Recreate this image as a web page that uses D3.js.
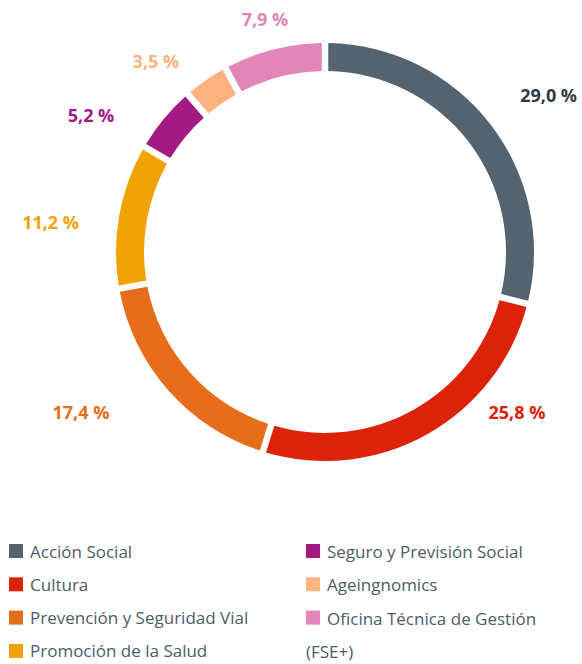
<!DOCTYPE html>
<html>
<head>
<meta charset="utf-8">
<script src="https://cdn.jsdelivr.net/npm/d3@7"></script>
<style>
  body { margin: 0; background: #fff; }
  svg { display: block; font-family: "Open Sans", sans-serif; }
</style>
</head>
<body>
<div id="chart"></div>
<script>
const width = 582;
const height = 664;

// datos
const categories = ["Acción Social", "Cultura", "Prevención y Seguridad Vial", "Promoción de la Salud",
  "Seguro y Previsión Social", "Ageingnomics", "Oficina Técnica de Gestión (FSE+)"];
const values = [29.0, 25.8, 17.4, 11.2, 5.2, 3.5, 7.9];
const colors = ["#536470", "#da2309", "#e66d1a", "#f1a306", "#a41a83", "#fdb381", "#e285b7"];
const labelColors = ["#2f3a44", "#da2309", "#e66d1a", "#f1a306", "#a41a83", "#fdb381", "#e285b7"];

const svg = d3.select("#chart")
  .append("svg")
  .attr("width", width)
  .attr("height", height);

const cx = 325, cy = 252;
const outer = 209, inner = 181;

const pie = d3.pie().value(d => d).sort(null);
const arcs = pie(values);

const arc = d3.arc()
  .innerRadius(inner)
  .outerRadius(outer)
  .padAngle(6.5 / outer)
  .padRadius(outer);

const g = svg.append("g").attr("transform", `translate(${cx},${cy})`);

g.selectAll("path.slice")
  .data(arcs)
  .enter()
  .append("path")
  .attr("class", "slice")
  .attr("d", arc)
  .attr("fill", (d, i) => colors[i]);

// etiquetas (ajuste manual del ángulo / radio)
const labelShift = [2.8, -21, 8.1, -3.9, -9.3, -6.8, -0.2];
const labelRadius = [273, 250, 292, 276, 271, 255, 241];
const fmt = v => d3.format(".1f")(v).replace(".", ",") + " %";

g.selectAll("text.lbl")
  .data(arcs)
  .enter()
  .append("text")
  .attr("class", "lbl")
  .attr("x", (d, i) => {
    const a = (d.startAngle + d.endAngle) / 2 + labelShift[i] * Math.PI / 180;
    return Math.sin(a) * labelRadius[i];
  })
  .attr("y", (d, i) => {
    const a = (d.startAngle + d.endAngle) / 2 + labelShift[i] * Math.PI / 180;
    return -Math.cos(a) * labelRadius[i];
  })
  .attr("text-anchor", "middle")
  .attr("dominant-baseline", "central")
  .attr("font-size", 18)
  .attr("font-weight", 700)
  .attr("fill", (d, i) => labelColors[i])
  .text(d => fmt(d.data));

// leyenda
const rowH = 33.3;
const legend = svg.append("g");
categories.forEach((c, i) => {
  const col = i < 4 ? 0 : 1;
  const row = i < 4 ? i : i - 4;
  const x0 = col === 0 ? 9 : 306;
  const y0 = 551 + row * rowH;
  legend.append("rect")
    .attr("x", x0)
    .attr("y", y0 - 7)
    .attr("width", 14)
    .attr("height", 14)
    .attr("fill", colors[i]);
  const t = legend.append("text")
    .attr("x", x0 + 21)
    .attr("y", y0)
    .attr("dominant-baseline", "central")
    .attr("font-size", 17)
    .attr("fill", "#4e5c67");
  if (c.includes("(FSE+)")) {
    t.append("tspan").text(c.replace(" (FSE+)", ""));
    t.append("tspan").attr("x", x0).attr("dy", rowH).text("(FSE+)");
  } else {
    t.text(c);
  }
});
</script>
</body>
</html>
